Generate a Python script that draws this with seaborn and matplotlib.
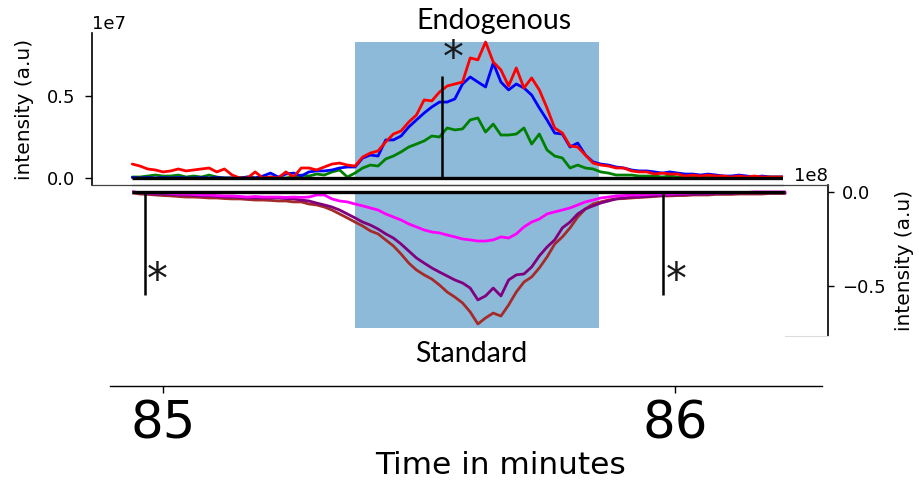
import numpy as np
import matplotlib
matplotlib.use("Agg")
import matplotlib.pyplot as plt
from matplotlib.ticker import ScalarFormatter
import seaborn as sns

# ---------------- data ----------------
# sampling grid of the chromatograms (minutes)
time_start = 84.94
time_step = 0.015
n_points = 86
time_min = np.round(time_start + time_step * np.arange(n_points), 4)

# Endogenous traces, intensity in units of 1e7 (a.u)
endo_red = [0.085, 0.073, 0.055, 0.049, 0.037, 0.043, 0.055, 0.043, 0.049, 0.055,
            0.061, 0.037, 0.055, 0.018, 0.0, 0.0, 0.037, 0.0, 0.006, 0.0,
            0.037, 0.006, 0.061, 0.061, 0.049, 0.067, 0.085, 0.091, 0.079, 0.073,
            0.128, 0.152, 0.165, 0.220, 0.268, 0.287, 0.341, 0.384, 0.476, 0.470,
            0.524, 0.561, 0.573, 0.585, 0.732, 0.720, 0.829, 0.707, 0.659, 0.561,
            0.671, 0.549, 0.610, 0.537, 0.427, 0.305, 0.274, 0.195, 0.189, 0.140,
            0.091, 0.079, 0.073, 0.061, 0.061, 0.043, 0.037, 0.037, 0.024, 0.030,
            0.024, 0.024, 0.012, 0.018, 0.012, 0.018, 0.012, 0.012, 0.006, 0.012,
            0.006, 0.012, 0.006, 0.006, 0.006, 0.006]
endo_blue = [0.003, 0.0, 0.003, 0.0, 0.003, 0.0, 0.003, 0.0, 0.0, 0.003,
             0.0, 0.003, 0.0, 0.0, 0.0, 0.006, 0.0, 0.012, 0.030, 0.006,
             0.024, 0.030, 0.012, 0.037, 0.043, 0.043, 0.049, 0.061, 0.067, 0.067,
             0.122, 0.140, 0.134, 0.232, 0.232, 0.256, 0.311, 0.354, 0.396, 0.433,
             0.463, 0.463, 0.482, 0.573, 0.616, 0.585, 0.555, 0.701, 0.585, 0.537,
             0.573, 0.549, 0.506, 0.427, 0.354, 0.274, 0.268, 0.189, 0.213, 0.140,
             0.098, 0.085, 0.079, 0.067, 0.061, 0.049, 0.043, 0.043, 0.037, 0.030,
             0.037, 0.030, 0.024, 0.024, 0.018, 0.024, 0.018, 0.012, 0.012, 0.018,
             0.012, 0.006, 0.012, 0.006, 0.006, 0.006]
endo_green = [0.006, 0.006, 0.012, 0.018, 0.012, 0.012, 0.018, 0.006, 0.012, 0.006,
              0.018, 0.006, 0.0, 0.0, 0.0, 0.006, 0.0, 0.0, 0.006, 0.0,
              0.0, 0.006, 0.018, 0.012, 0.024, 0.018, 0.037, 0.049, 0.006, 0.030,
              0.061, 0.079, 0.073, 0.116, 0.134, 0.159, 0.189, 0.207, 0.226, 0.256,
              0.250, 0.305, 0.293, 0.299, 0.354, 0.366, 0.280, 0.329, 0.262, 0.262,
              0.268, 0.305, 0.207, 0.268, 0.171, 0.134, 0.122, 0.061, 0.079, 0.061,
              0.055, 0.037, 0.030, 0.018, 0.018, 0.018, 0.012, 0.012, 0.012, 0.006,
              0.012, 0.006, 0.006, 0.006, 0.006, 0.006, 0.006, 0.006, 0.006, 0.006,
              0.006, 0.006, 0.006, 0.006, 0.006, 0.006]

# Standard traces (mirrored, drawn negative), intensity in units of 1e8 (a.u)
std_magenta = [0.0, -0.003, -0.005, -0.005, -0.005, -0.008, -0.011, -0.011, -0.013, -0.016,
               -0.016, -0.019, -0.021, -0.021, -0.024, -0.027, -0.024, -0.027, -0.027, -0.027,
               -0.029, -0.027, -0.029, -0.027, -0.016, -0.016, -0.037, -0.048, -0.053, -0.064,
               -0.074, -0.085, -0.096, -0.117, -0.133, -0.149, -0.170, -0.186, -0.202, -0.213,
               -0.218, -0.229, -0.239, -0.250, -0.255, -0.261, -0.261, -0.255, -0.239, -0.245,
               -0.223, -0.186, -0.160, -0.144, -0.117, -0.106, -0.096, -0.085, -0.069, -0.053,
               -0.043, -0.032, -0.027, -0.021, -0.019, -0.016, -0.016, -0.013, -0.011, -0.011,
               -0.011, -0.008, -0.008, -0.005, -0.005, -0.005, -0.005, -0.003, -0.003, -0.003,
               -0.003, 0.0, 0.0, 0.0, 0.0, 0.0]
std_purple = [0.0, -0.005, -0.008, -0.011, -0.011, -0.013, -0.016, -0.016, -0.019, -0.021,
              -0.021, -0.024, -0.027, -0.027, -0.029, -0.032, -0.032, -0.032, -0.032, -0.032,
              -0.035, -0.037, -0.043, -0.048, -0.059, -0.069, -0.080, -0.096, -0.117, -0.138,
              -0.160, -0.176, -0.197, -0.223, -0.245, -0.277, -0.314, -0.351, -0.378, -0.404,
              -0.426, -0.447, -0.468, -0.484, -0.511, -0.574, -0.553, -0.511, -0.553, -0.468,
              -0.441, -0.436, -0.399, -0.340, -0.293, -0.255, -0.191, -0.160, -0.117, -0.090,
              -0.074, -0.059, -0.048, -0.037, -0.032, -0.027, -0.027, -0.024, -0.021, -0.019,
              -0.016, -0.016, -0.013, -0.013, -0.011, -0.011, -0.008, -0.008, -0.008, -0.005,
              -0.005, -0.005, -0.005, -0.005, -0.005, -0.005]
std_brown = [-0.005, -0.011, -0.013, -0.016, -0.019, -0.021, -0.024, -0.027, -0.027, -0.029,
             -0.032, -0.032, -0.035, -0.037, -0.037, -0.040, -0.043, -0.043, -0.045, -0.048,
             -0.048, -0.053, -0.053, -0.064, -0.069, -0.080, -0.096, -0.117, -0.138, -0.160,
             -0.181, -0.207, -0.223, -0.255, -0.287, -0.330, -0.378, -0.415, -0.441, -0.463,
             -0.495, -0.532, -0.559, -0.590, -0.638, -0.702, -0.670, -0.644, -0.660, -0.601,
             -0.532, -0.479, -0.452, -0.404, -0.346, -0.277, -0.239, -0.191, -0.133, -0.090,
             -0.064, -0.053, -0.043, -0.037, -0.035, -0.032, -0.029, -0.027, -0.024, -0.021,
             -0.021, -0.019, -0.019, -0.016, -0.016, -0.016, -0.013, -0.013, -0.013, -0.011,
             -0.011, -0.011, -0.011, -0.008, -0.008, -0.008]

# integration window (minutes) and its intensity extent
peak_window = [85.375, 85.852]
endo_window_top = 0.829      # 1e7
std_window_bottom = -0.723   # 1e8

# marker lines with asterisks
endo_marker_time = [85.545]
endo_marker_height = 0.622   # 1e7
std_marker_times = [84.965, 85.977]
std_marker_depth = -0.548    # 1e8

time_ticks = [85, 86]
time_tick_labels = ["85", "86"]

# ---------------- figure ----------------
sns.set_style("ticks")
plt.rcParams["font.family"] = ["DejaVu Sans"]
for key in ("text.color", "axes.labelcolor", "xtick.color", "ytick.color",
            "axes.edgecolor"):
    plt.rcParams[key] = "black"

W, H = 919, 486
fig = plt.figure(figsize=(W / 100, H / 100), dpi=100)


def rect(x0, y0, x1, y1):
    return [x0 / W, 1 - y1 / H, (x1 - x0) / W, (y1 - y0) / H]


def t_of(px):
    return 85 + (px - 163) / 512.0


ax_top = fig.add_axes(rect(92, 33, 783, 185))
ax_bot = fig.add_axes(rect(132, 185, 828, 336))
ax_time = fig.add_axes(rect(110, 370, 822, 386))
for a in (ax_top, ax_bot, ax_time):
    a.patch.set_alpha(0)

E7, E8 = 1e7, 1e8
endo = [(endo_green, "green"), (endo_blue, "blue"), (endo_red, "red")]
std = [(std_brown, "brown"), (std_purple, "purple"), (std_magenta, "magenta")]
LW = 2.0

# --- top: endogenous ---
ax_top.fill_between(peak_window, 0, endo_window_top * E7, color="#1f77b4",
                    alpha=0.5, lw=0, zorder=0)
for vals, col in endo:
    sns.lineplot(x=time_min, y=np.array(vals) * E7, color=col, lw=LW,
                 ax=ax_top, zorder=2)
ax_top.hlines(0, time_min[0], time_min[-1], color="black", lw=2.4, zorder=3)
ax_top.vlines(endo_marker_time, 0, endo_marker_height * E7, color="black",
              lw=1.8, zorder=4)
for t in endo_marker_time:
    ax_top.annotate("*", xy=(t, endo_marker_height * E7), xytext=(8, 12),
                    textcoords="offset points", ha="center", va="center",
                    fontsize=30, color="#1a1a1a")

ax_top.set_xlim(t_of(92), t_of(783))
ax_top.set_ylim(-0.0427 * E7, 0.884 * E7)
ax_top.set_yticks([0, 0.5 * E7])
fmt_top = ScalarFormatter(useMathText=False)
fmt_top.set_powerlimits((7, 7))
ax_top.yaxis.set_major_formatter(fmt_top)
ax_top.set_xticks([])
ax_top.set_xlabel("")
ax_top.set_ylabel("intensity (a.u)", fontsize=14.5, labelpad=9)
ax_top.tick_params(axis="y", labelsize=13, length=5, width=1, pad=7)
ax_top.yaxis.get_offset_text().set_fontsize(13)
for s in ("top", "right"):
    ax_top.spines[s].set_visible(False)
ax_top.spines["left"].set_linewidth(1.2)
ax_top.spines["bottom"].set_linewidth(0.9)
ax_top.spines["bottom"].set_color("#444444")

# --- bottom: standard ---
ax_bot.fill_between(peak_window, std_window_bottom * E8, 0, color="#1f77b4",
                    alpha=0.5, lw=0, zorder=0)
for vals, col in std:
    sns.lineplot(x=time_min, y=np.array(vals) * E8, color=col, lw=LW,
                 ax=ax_bot, zorder=2)
ax_bot.hlines(0, time_min[0], time_min[-1], color="black", lw=2.4, zorder=3)
ax_bot.vlines(std_marker_times, std_marker_depth * E8, 0, color="black",
              lw=1.8, zorder=4)
for t in std_marker_times:
    ax_bot.annotate("*", xy=(t, std_marker_depth * E8), xytext=(9, 10),
                    textcoords="offset points", ha="center", va="center",
                    fontsize=30, color="#1a1a1a")

ax_bot.set_xlim(t_of(132), t_of(828))
ax_bot.set_ylim(-0.766 * E8, 0.037 * E8)
ax_bot.set_yticks([-0.5 * E8, 0])
fmt_bot = ScalarFormatter(useMathText=False)
fmt_bot.set_powerlimits((8, 8))
ax_bot.yaxis.set_major_formatter(fmt_bot)
ax_bot.yaxis.tick_right()
ax_bot.yaxis.set_label_position("right")
ax_bot.set_xticks([])
ax_bot.set_xlabel("")
ax_bot.set_ylabel("intensity (a.u)", fontsize=14.5, labelpad=7)
ax_bot.tick_params(axis="y", labelsize=13, length=4, width=1, pad=6)
ax_bot.yaxis.get_offset_text().set_fontsize(13)
ax_bot.spines["left"].set_visible(False)
ax_bot.spines["right"].set_linewidth(1.2)
ax_bot.spines["top"].set_linewidth(0.9)
ax_bot.spines["top"].set_color("#444444")
ax_bot.spines["bottom"].set_color("#dddddd")
ax_bot.spines["bottom"].set_linewidth(0.8)
ax_bot.spines["bottom"].set_bounds(time_min[-1], t_of(828))

# --- shared time axis ---
ax_time.set_xlim(t_of(110), t_of(822))
ax_time.set_yticks([])
ax_time.set_xticks(time_ticks)
ax_time.set_xticklabels(time_tick_labels)
ax_time.tick_params(axis="x", labelsize=37, length=5, width=1, pad=5)
for s in ("top", "left", "right"):
    ax_time.spines[s].set_visible(False)
ax_time.spines["bottom"].set_linewidth(1.0)
ax_time.set_xlabel("Time in minutes", fontsize=22.5)
ax_time.xaxis.set_label_coords(501 / W, 1 - 451 / H, transform=fig.transFigure)

# --- panel titles ---
fig.text(494 / W, 1 - 29 / H, "Endogenous", family=["Lato", "DejaVu Sans"],
         fontsize=20.5, ha="center", va="baseline")
fig.text(471 / W, 1 - 362 / H, "Standard", family=["Lato", "DejaVu Sans"],
         fontsize=20.5, ha="center", va="baseline")

fig.savefig("out.png", dpi=100)
